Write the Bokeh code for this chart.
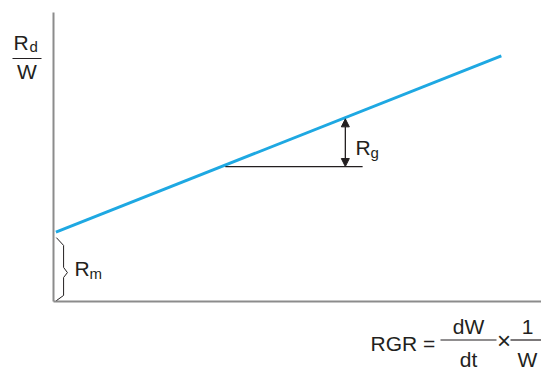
from bokeh.plotting import figure
from bokeh.models import Label, Arrow, NormalHead, Range1d
from bokeh.embed import file_html
from bokeh.resources import INLINE

# ---- data (conceptual diagram, data units) ----
rgr = [0.05, 9.33]          # relative growth rate (x)
rd_w = [2.4, 8.5]           # specific respiration Rd/W (y)
rm = 2.4                    # maintenance respiration (intercept)
ref_x = [3.58, 6.44]        # horizontal reference segment
ref_y = [4.67, 4.67]
rg_x = 6.08                 # growth-respiration arrow position
rg_y = [4.67, 6.32]
brace_x = [0.06, 0.21, 0.21, 0.29, 0.21, 0.21, 0.06]
brace_y = [2.21, 1.94, 1.18, 1.00, 0.83, 0.21, 0.03]
x_axis_end = 10.17
y_axis_end = 10.0

TXT = "#231f20"
FONT = "Liberation Sans"
PX_X = 48.0     # pixels per x unit
PX_Y = 28.9     # pixels per y unit
OX, OY = 53, 301  # origin position in the picture
W, H = 541, 370
DY = 8          # text baseline correction (pixels)

p = figure(width=W, height=H, output_backend="svg", toolbar_location=None,
           x_range=Range1d(-OX / PX_X, (W - OX) / PX_X),
           y_range=Range1d(-(H - OY) / PX_Y, OY / PX_Y),
           min_border=0, x_axis_type=None, y_axis_type=None)
p.outline_line_color = None
p.grid.visible = False

# axes
p.segment(x0=[0, 0], y0=[0, 0], x1=[x_axis_end, 0], y1=[0, y_axis_end],
          line_color="#8c8c8c", line_width=2)

# main line
p.line(rgr, rd_w, line_color="#1ea8e2", line_width=3)
# reference segment
p.line(ref_x, ref_y, line_color=TXT, line_width=1.3)
# brace for Rm
p.line(brace_x, brace_y, line_color=TXT, line_width=1)
# double arrow for Rg
p.add_layout(Arrow(x_start=rg_x, y_start=rg_y[0], x_end=rg_x, y_end=rg_y[1],
                   line_color=TXT, line_width=1.3,
                   start=NormalHead(size=8, fill_color=TXT, line_color=TXT),
                   end=NormalHead(size=8, fill_color=TXT, line_color=TXT)))

# helpers to place text (picture pixel -> data)
def X(px):
    return (px - OX) / PX_X

def Y(py):
    return (OY - py) / PX_Y

def lab(x, y, t, size="21px", align="left"):
    p.add_layout(Label(x=X(x), y=Y(y - DY), text=t, text_font=FONT,
                       text_font_size=size, text_color=TXT,
                       text_align=align, text_baseline="alphabetic"))

def bar(x0, x1, y):
    p.segment(x0=[X(x0)], y0=[Y(y)], x1=[X(x1)], y1=[Y(y)],
              line_color=TXT, line_width=1.2)

# y label Rd / W
lab(13, 50, "R")
lab(29, 54, "d", size="15px")
bar(12, 41, 58)
lab(26.5, 79, "W", align="center")

# Rg label
lab(355, 155, "R")
lab(370, 160, "g", size="15px")

# Rm label
lab(74, 276, "R")
lab(89, 281, "m", size="15px")

# x label: RGR = dW/dt x 1/W
lab(370, 351, "RGR =")
bar(440, 496, 339.5)
lab(468, 334, "dW", align="center")
lab(468, 367, "dt", align="center")
lab(503.5, 347.5, "\u00d7", size="24px", align="center")
bar(510, 541, 339.5)
lab(527, 334, "1", align="center")
lab(527, 367, "W", align="center")

open("out.html", "w").write(file_html(p, INLINE))
